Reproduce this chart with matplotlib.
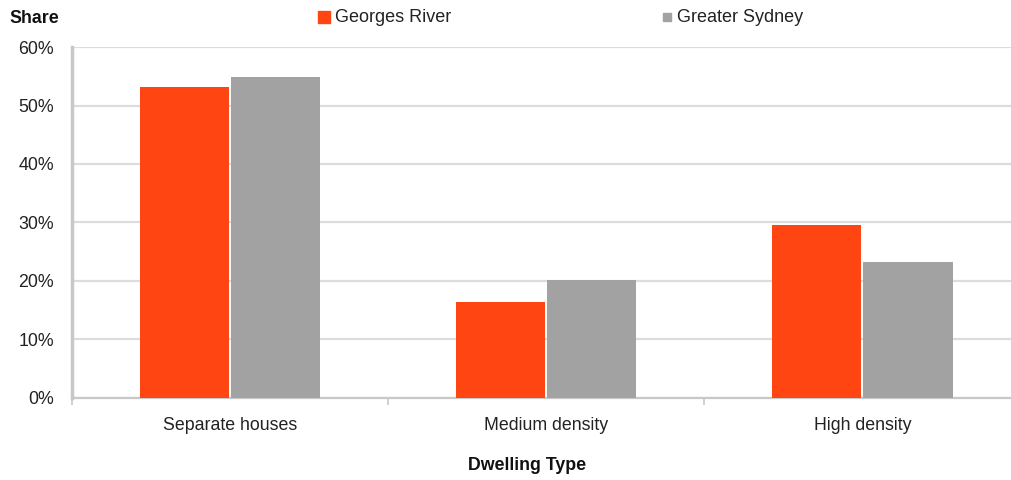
import matplotlib.pyplot as plt
import numpy as np
from matplotlib.ticker import FixedLocator, FuncFormatter
from matplotlib.patches import Rectangle

categories = ["Separate houses", "Medium density", "High density"]
georges_river = [53.2, 16.4, 29.6]
greater_sydney = [54.9, 20.2, 23.2]
series_names = ["Georges River", "Greater Sydney"]

orange = "#FF4612"
grey = "#A2A2A2"

plt.rcParams['font.family'] = ['Liberation Sans', 'DejaVu Sans']

fig = plt.figure(figsize=(10.11, 4.8), dpi=100)
ax = fig.add_axes([0.0712, 0.171, 0.9288, 0.731])

x = np.arange(len(categories))
w = 0.282
ax.bar(x - w / 2 - 0.003, georges_river, width=w, color=orange, label=series_names[0], zorder=3)
ax.bar(x + w / 2 + 0.003, greater_sydney, width=w, color=grey, label=series_names[1], zorder=3)

ax.set_xlim(-0.5, 2.47)
ax.set_ylim(0, 60)
ax.set_yticks(np.arange(0, 61, 10))
ax.yaxis.set_major_formatter(FuncFormatter(lambda v, p: f"{v:.0f}%"))
ax.yaxis.grid(True, color="#DCDCDC", linewidth=1.6, zorder=0)
ax.tick_params(axis='y', length=0, labelsize=12.8, pad=13, labelcolor="#222222")

# category labels at centres, tick marks at the boundaries
ax.set_xticks(x)
ax.set_xticklabels(categories, fontsize=12.8, color="#222222")
ax.tick_params(axis='x', which='major', length=0, pad=14)
ax.xaxis.set_minor_locator(FixedLocator([-0.5, 0.5, 1.5]))
ax.tick_params(axis='x', which='minor', length=5, width=1.2, color="#C8C8C8", direction='out')

for s in ["top", "right"]:
    ax.spines[s].set_visible(False)
ax.spines["left"].set_color("#C8C8C8")
ax.spines["left"].set_linewidth(2.5)
ax.spines["bottom"].set_color("#C8C8C8")
ax.spines["bottom"].set_linewidth(1.6)

fig.text(0.0095, 0.962, "Share", fontsize=12.8, fontweight='bold', ha='left', va='center', color="#111111")
fig.text(0.521, 0.031, "Dwelling Type", fontsize=12.8, fontweight='bold', ha='center', va='center', color="#111111")

# legend at top
fig.patches.append(Rectangle((318 / 1011, 1 - 23 / 480), 12 / 1011, 12 / 480,
                             transform=fig.transFigure, color=orange))
fig.text(335 / 1011, 0.964, series_names[0], fontsize=13, ha='left', va='center', color="#222222")
fig.patches.append(Rectangle((663 / 1011, 1 - 21 / 480), 8 / 1011, 8 / 480,
                             transform=fig.transFigure, color=grey))
fig.text(677 / 1011, 0.964, series_names[1], fontsize=13, ha='left', va='center', color="#222222")

fig.savefig("out.png", dpi=100)
